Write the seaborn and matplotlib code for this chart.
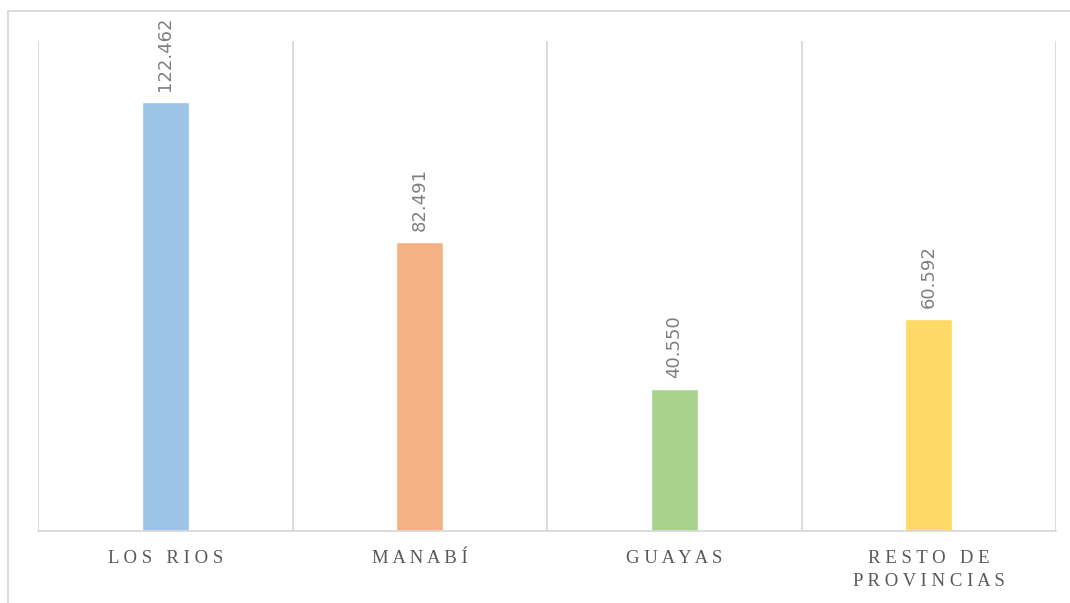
import numpy as np
import pandas as pd
import matplotlib
matplotlib.use("Agg")
import matplotlib.pyplot as plt
from matplotlib.patches import Rectangle
import seaborn as sns

# data
categories = ["LOS RIOS", "MANABÍ", "GUAYAS", "RESTO DE\nPROVINCIAS"]
values = [122462, 82491, 40550, 60592]
bar_colors = ["#9DC3E6", "#F4B183", "#A9D18E", "#FFD966"]

df = pd.DataFrame({"cat": categories, "val": values})


def spaced(label):
    # imitate the wide letter spacing of the original labels
    lines = []
    for line in label.split("\n"):
        words = [" ".join(list(w)) for w in line.split(" ")]
        lines.append("   ".join(words))
    return "\n".join(lines)


def fmt(v):
    return f"{v:,}".replace(",", ".")


sns.set_style("white")
fig = plt.figure(figsize=(10.7, 6.03), dpi=100)
ax = fig.add_axes([38 / 1070, 1 - 531 / 603, (1056 - 38) / 1070, (531 - 41) / 603])

sns.barplot(data=df, x="cat", y="val", hue="cat", palette=bar_colors,
            order=categories, width=0.185, legend=False, ax=ax, saturation=1)

ax.set_ylim(0, 140000)
ax.set_xlim(-0.5, len(categories) - 0.5)

# vertical gridlines between categories
ax.set_xticks(np.arange(-0.5, len(categories)), minor=True)
ax.grid(which="minor", axis="x", color="#D9D9D9", lw=1.3)
ax.grid(which="major", visible=False)
ax.tick_params(which="both", length=0)
ax.set_yticks([])
ax.set_xlabel("")
ax.set_ylabel("")
ax.set_xticks(range(len(categories)))
ax.set_xticklabels([spaced(c) for c in categories], family="Liberation Serif",
                   fontsize=13.5, color="#595959", va="top", linespacing=1.4)
ax.tick_params(axis="x", pad=14)

for s in ["top", "left", "right"]:
    ax.spines[s].set_visible(False)
ax.spines["bottom"].set_color("#D9D9D9")
ax.spines["bottom"].set_linewidth(1.3)

for i, v in enumerate(values):
    ax.annotate(fmt(v), (i, v), xytext=(0, 8), textcoords="offset points",
                rotation=90, ha="center", va="bottom", fontsize=13,
                color="#7F7F7F", family="DejaVu Sans")

# chart area border (partly outside the image)
fig.add_artist(Rectangle((8 / 1070, -0.1), 2, 1 - 11 / 603 + 0.1,
                         transform=fig.transFigure, fill=False,
                         ec="#D9D9D9", lw=1.3))

fig.savefig("out.png", dpi=100)
